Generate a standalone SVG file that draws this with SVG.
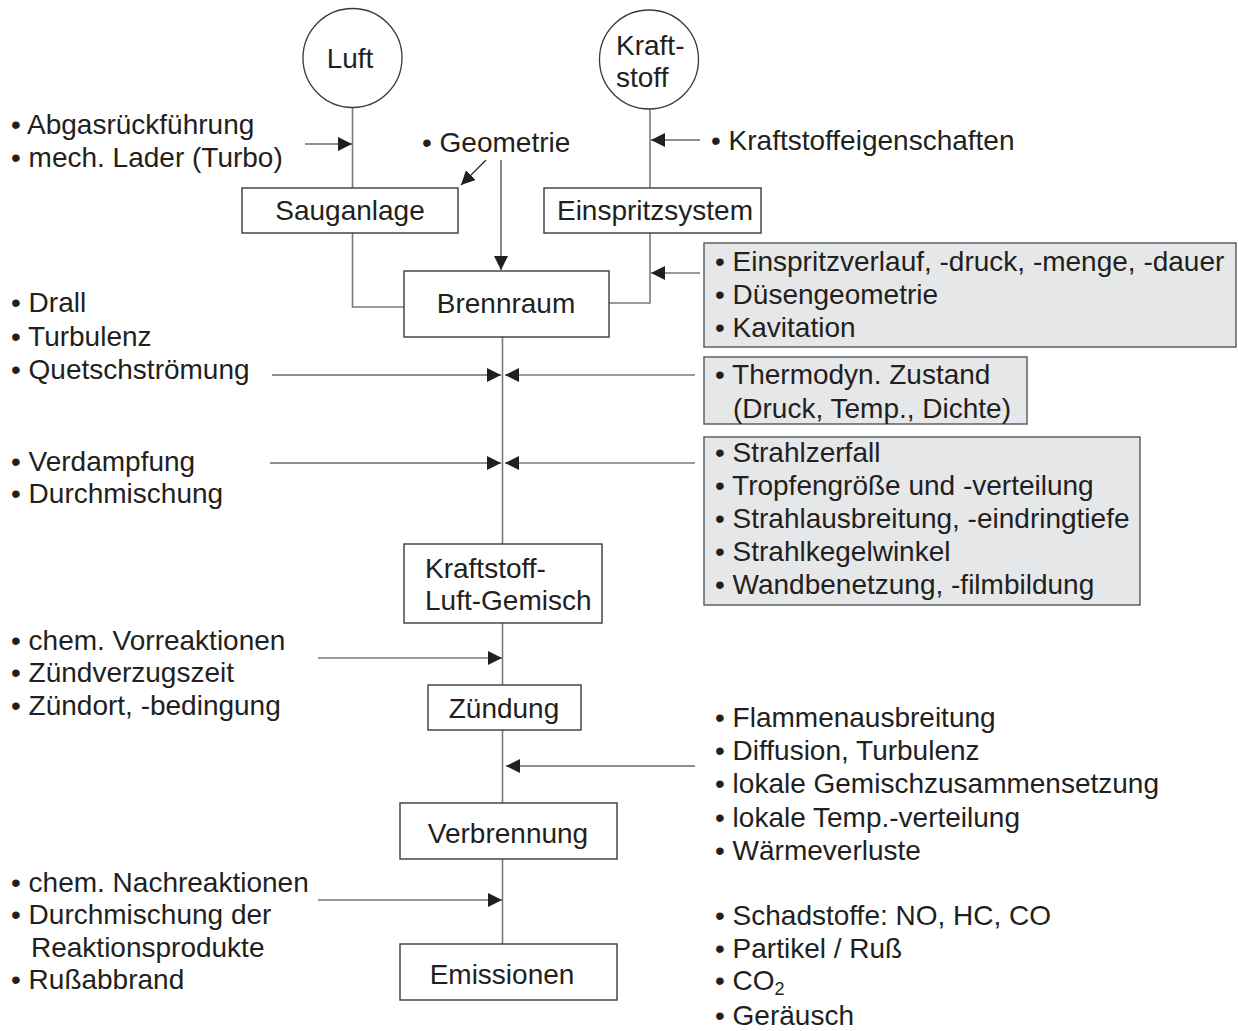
<svg xmlns="http://www.w3.org/2000/svg" width="1238" height="1031" viewBox="0 0 1238 1031">
<style>
text{font-family:"Liberation Sans",Arial,sans-serif;font-size:28px;fill:#231f20}
.c{text-anchor:middle}
.box{fill:#fff;stroke:#3a3a3a;stroke-width:1.4}
.gbox{fill:#e6e7e8;stroke:#555;stroke-width:1.4}
.flow{fill:none;stroke:#7a7a7a;stroke-width:1.6}
.arr{fill:none;stroke:#231f20;stroke-width:1.1;marker-end:url(#ah)}
.arrg{fill:none;stroke:#7a7a7a;stroke-width:1.5;marker-end:url(#ah)}
</style>
<defs>
<marker id="ah" viewBox="0 0 14 14" refX="14" refY="7" markerWidth="14" markerHeight="14" markerUnits="userSpaceOnUse" orient="auto">
<path d="M0,0 L14,7 L0,14 z" fill="#231f20"/>
</marker>
</defs>
<rect width="1238" height="1031" fill="#fff"/>
<g id="connectors">
<path class="flow" d="M352.5,108 V188"/>
<path class="flow" d="M650,109 V188"/>
<path class="flow" d="M352.5,233 V307 H404"/>
<path class="flow" d="M650,233 V303 H609"/>
<path class="flow" d="M502.5,337 V544"/>
<path class="flow" d="M502.5,623 V685"/>
<path class="flow" d="M502.5,730 V803"/>
<path class="flow" d="M502.5,859 V944"/>
<path class="arr" d="M305,144 H352"/>
<path class="arr" d="M700,140 H651"/>
<path class="arr" d="M486,160 L461,185"/>
<path class="arr" d="M501,160 V270"/>
<path class="arrg" d="M700,273 H651"/>
<path class="arr" d="M272,375 H501"/>
<path class="arrg" d="M695,375 H505"/>
<path class="arr" d="M270,463 H501"/>
<path class="arrg" d="M695,463 H505"/>
<path class="arrg" d="M318,658 H502"/>
<path class="arr" d="M695,766 H506"/>
<path class="arrg" d="M318,900 H502"/>
</g>
<g id="luft">
<circle cx="352.5" cy="58" r="49.5" fill="#fff" stroke="#3a3a3a" stroke-width="1.3"/>
<text class="c" x="350" y="68">Luft</text>
</g>
<g id="kraftstoff">
<circle cx="649" cy="59.5" r="49.5" fill="#fff" stroke="#3a3a3a" stroke-width="1.3"/>
<text x="616" y="55">Kraft-</text>
<text x="616" y="87">stoff</text>
</g>
<g id="sauganlage">
<rect class="box" x="242" y="188" width="216" height="45"/>
<text class="c" x="350" y="220">Sauganlage</text>
</g>
<g id="einspritzsystem">
<rect class="box" x="544" y="188" width="217" height="45"/>
<text class="c" x="655" y="220">Einspritzsystem</text>
</g>
<g id="brennraum">
<rect class="box" x="404" y="271" width="205" height="66"/>
<text class="c" x="506" y="313">Brennraum</text>
</g>
<g id="gemisch">
<rect class="box" x="404" y="544" width="198" height="79"/>
<text x="425" y="578">Kraftstoff-</text>
<text x="425" y="610">Luft-Gemisch</text>
</g>
<g id="zuendung">
<rect class="box" x="428" y="685" width="153" height="45"/>
<text class="c" x="504" y="718">Zündung</text>
</g>
<g id="verbrennung">
<rect class="box" x="400" y="803" width="217" height="56"/>
<text class="c" x="508" y="843">Verbrennung</text>
</g>
<g id="emissionen">
<rect class="box" x="400" y="944" width="217" height="56"/>
<text class="c" x="502" y="984">Emissionen</text>
</g>
<g id="box-einspritzverlauf">
<rect class="gbox" x="704" y="243" width="532" height="104"/>
<text x="715" y="271">• Einspritzverlauf, -druck, -menge, -dauer</text>
<text x="715" y="304">• Düsengeometrie</text>
<text x="715" y="337">• Kavitation</text>
</g>
<g id="box-thermodyn">
<rect class="gbox" x="704" y="357" width="323" height="67"/>
<text x="715" y="384">• Thermodyn. Zustand</text>
<text x="733" y="418">(Druck, Temp., Dichte)</text>
</g>
<g id="box-strahl">
<rect class="gbox" x="704" y="437" width="436" height="168"/>
<text x="715" y="462">• Strahlzerfall</text>
<text x="715" y="495">• Tropfengröße und -verteilung</text>
<text x="715" y="528">• Strahlausbreitung, -eindringtiefe</text>
<text x="715" y="561">• Strahlkegelwinkel</text>
<text x="715" y="594">• Wandbenetzung, -filmbildung</text>
</g>
<g id="labels-left">
<text x="11" y="134">• Abgasrückführung</text>
<text x="11" y="167">• mech. Lader (Turbo)</text>
<text x="11" y="312">• Drall</text>
<text x="11" y="346">• Turbulenz</text>
<text x="11" y="379">• Quetschströmung</text>
<text x="11" y="471">• Verdampfung</text>
<text x="11" y="503">• Durchmischung</text>
<text x="11" y="650">• chem. Vorreaktionen</text>
<text x="11" y="682">• Zündverzugszeit</text>
<text x="11" y="715">• Zündort, -bedingung</text>
<text x="11" y="892">• chem. Nachreaktionen</text>
<text x="11" y="924">• Durchmischung der</text>
<text x="31" y="957">Reaktionsprodukte</text>
<text x="11" y="989">• Rußabbrand</text>
</g>
<g id="labels-top">
<text x="422" y="152">• Geometrie</text>
<text x="711" y="150">• Kraftstoffeigenschaften</text>
</g>
<g id="labels-right">
<text x="715" y="727">• Flammenausbreitung</text>
<text x="715" y="760">• Diffusion, Turbulenz</text>
<text x="715" y="793">• lokale Gemischzusammensetzung</text>
<text x="715" y="827">• lokale Temp.-verteilung</text>
<text x="715" y="860">• Wärmeverluste</text>
<text x="715" y="925">• Schadstoffe: NO, HC, CO</text>
<text x="715" y="958">• Partikel / Ruß</text>
<text x="715" y="990">• CO<tspan font-size="18" dy="5">2</tspan></text>
<text x="715" y="1025">• Geräusch</text>
</g>
</svg>
